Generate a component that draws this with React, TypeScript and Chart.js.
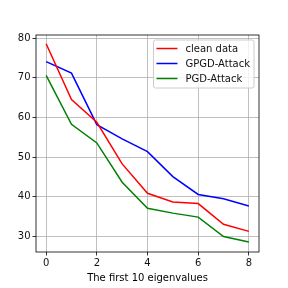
import React, { useEffect, useRef } from "react";
import { Chart, registerables } from "chart.js";

Chart.register(...registerables);

const xValues = [0, 1, 2, 3, 4, 5, 6, 7, 8];
const cleanData = [78.6, 64.5, 58.8, 48.3, 40.9, 38.7, 38.3, 33.1, 31.3];
const gpgdData = [74.1, 71.2, 58.2, 54.6, 51.4, 45.1, 40.6, 39.5, 37.7];
const pgdData = [70.6, 58.3, 53.6, 43.7, 37.1, 35.9, 34.9, 30.0, 28.6];
const seriesLabels = ["clean data", "GPGD-Attack", "PGD-Attack"];
const seriesColors = ["#ff0000", "#0000ff", "#008000"];
const xTicks = [0, 2, 4, 6, 8];
const yTicks = [30, 40, 50, 60, 70, 80];
const xTitle = "The first 10 eigenvalues";

const FONT = "'DejaVu Sans', sans-serif";

const framePlugin = {
  id: "frame",
  afterDatasetsDraw(chart: any) {
    const { ctx, chartArea: a } = chart;
    ctx.save();
    ctx.strokeStyle = "#000";
    ctx.lineWidth = 0.8;
    ctx.strokeRect(a.left, a.top, a.right - a.left, a.bottom - a.top);
    ctx.restore();
  },
};

const legendPlugin = {
  id: "mplLegend",
  afterDraw(chart: any) {
    const { ctx, chartArea: a } = chart;
    ctx.save();
    ctx.font = `10px ${FONT}`;
    let maxW = 0;
    seriesLabels.forEach((l) => (maxW = Math.max(maxW, ctx.measureText(l).width)));
    const w = 32 + maxW + 4;
    const h = 48;
    const x = a.right - 5 - w;
    const y = a.top + 5;
    ctx.fillStyle = "rgba(255,255,255,0.8)";
    ctx.strokeStyle = "#cccccc";
    ctx.lineWidth = 1;
    ctx.beginPath();
    const r = 2;
    ctx.moveTo(x + r, y);
    ctx.lineTo(x + w - r, y);
    ctx.quadraticCurveTo(x + w, y, x + w, y + r);
    ctx.lineTo(x + w, y + h - r);
    ctx.quadraticCurveTo(x + w, y + h, x + w - r, y + h);
    ctx.lineTo(x + r, y + h);
    ctx.quadraticCurveTo(x, y + h, x, y + h - r);
    ctx.lineTo(x, y + r);
    ctx.quadraticCurveTo(x, y, x + r, y);
    ctx.closePath();
    ctx.fill();
    ctx.stroke();
    seriesLabels.forEach((l, i) => {
      const cy = y + 8.5 + i * 15;
      ctx.strokeStyle = seriesColors[i];
      ctx.lineWidth = 1.5;
      ctx.beginPath();
      ctx.moveTo(x + 3, cy);
      ctx.lineTo(x + 24, cy);
      ctx.stroke();
      ctx.fillStyle = "#111";
      ctx.textBaseline = "middle";
      ctx.textAlign = "left";
      ctx.fillText(l, x + 32, cy + 0.5);
    });
    ctx.restore();
  },
};

export default function App() {
  const ref = useRef<HTMLCanvasElement>(null);
  useEffect(() => {
    if (!ref.current) return;
    const series = [cleanData, gpgdData, pgdData];
    const chart = new Chart(ref.current, {
      type: "line",
      data: {
        datasets: series.map((s, i) => ({
          label: seriesLabels[i],
          data: xValues.map((x, j) => ({ x, y: s[j] })),
          borderColor: seriesColors[i],
          backgroundColor: seriesColors[i],
          borderWidth: 1.5,
          pointRadius: 0,
          tension: 0,
          fill: false,
        })),
      },
      options: {
        responsive: false,
        animation: false,
        layout: { padding: { left: 0, right: 29, top: 35, bottom: 0 } },
        plugins: { legend: { display: false }, tooltip: { enabled: false } },
        scales: {
          x: {
            type: "linear",
            min: -0.4,
            max: 8.4,
            afterBuildTicks: (s: any) => {
              s.ticks = xTicks.map((v) => ({ value: v }));
            },
            afterFit: (s: any) => {
              s.height = 36;
            },
            grid: { color: "#b0b0b0", lineWidth: 0.8, tickColor: "#000", tickLength: 3.5, tickWidth: 0.8 },
            border: { display: false },
            ticks: { color: "#111", font: { family: FONT, size: 10 }, padding: 2, maxRotation: 0 },
            title: { display: true, text: xTitle, color: "#000", font: { family: FONT, size: 10 }, padding: { top: 0, bottom: 4 } },
          },
          y: {
            type: "linear",
            min: 26.1,
            max: 80.8,
            afterBuildTicks: (s: any) => {
              s.ticks = yTicks.map((v) => ({ value: v }));
            },
            afterFit: (s: any) => {
              s.width = 36;
            },
            grid: { color: "#b0b0b0", lineWidth: 0.8, tickColor: "#000", tickLength: 3.5, tickWidth: 0.8 },
            border: { display: false },
            ticks: { color: "#111", font: { family: FONT, size: 10 }, padding: 2 },
          },
        },
      },
      plugins: [framePlugin, legendPlugin],
    });
    return () => chart.destroy();
  }, []);
  return (
    <div style={{ position: "fixed", left: 0, top: 0, width: 288, height: 288, background: "#fff" }}>
      <canvas ref={ref} width={288} height={288} style={{ display: "block" }} />
    </div>
  );
}
